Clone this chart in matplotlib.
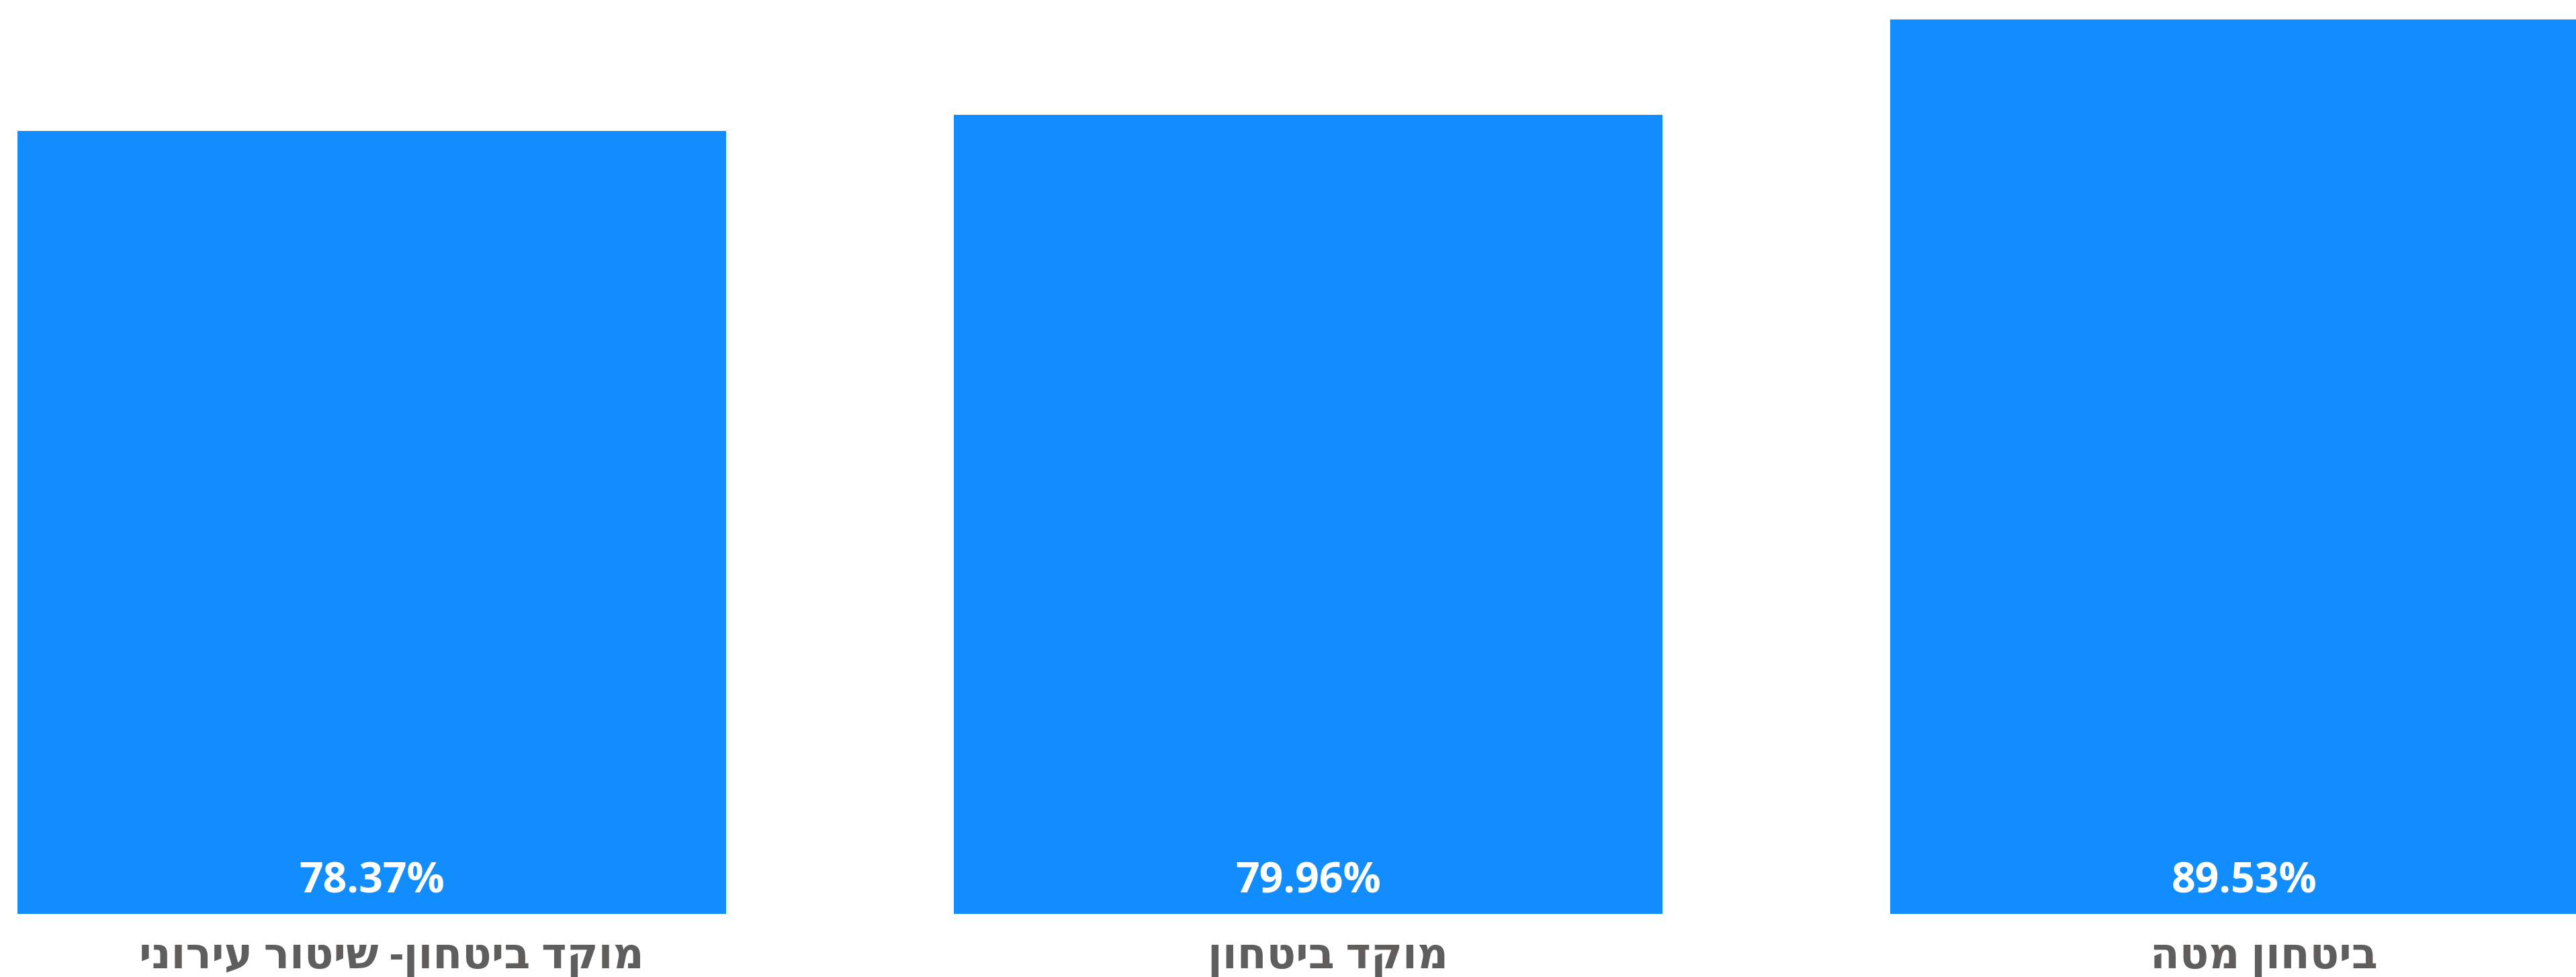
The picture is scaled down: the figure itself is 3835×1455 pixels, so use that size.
import matplotlib.pyplot as plt

# Data
categories = ['מוקד ביטחון- שיטור עירוני', 'מוקד ביטחון', 'ביטחון מטה']
values = [78.37, 79.96, 89.53]

bar_color = '#118DFF'
label_color = '#605E5C'
fonts = ['Open Sans', 'DejaVu Sans']

fig = plt.figure(figsize=(38.35, 14.55), dpi=100)
ax = fig.add_axes([0, 0.0646, 1, 0.9354])

x = list(range(len(categories)))
ax.bar(x, values, width=0.757, color=bar_color)

# Value labels inside the bars, near the bottom
for xi, v in zip(x, values):
    ax.text(xi, 2.15, f'{v:.2f}%', ha='center', va='baseline',
            color='white', fontsize=45, fontweight='bold', family=fonts)

# Category labels (Hebrew, reversed for right-to-left display)
for xi, name in zip(x, categories):
    ax.text(xi + 0.021, -5.44, name[::-1], ha='center', va='baseline',
            color=label_color, fontsize=46, fontweight='bold', family=fonts,
            clip_on=False)

ax.set_xlim(-0.397, 2.354)
ax.set_ylim(0, 91.48)
ax.axis('off')

fig.savefig('out.png', dpi=100, facecolor='white')
